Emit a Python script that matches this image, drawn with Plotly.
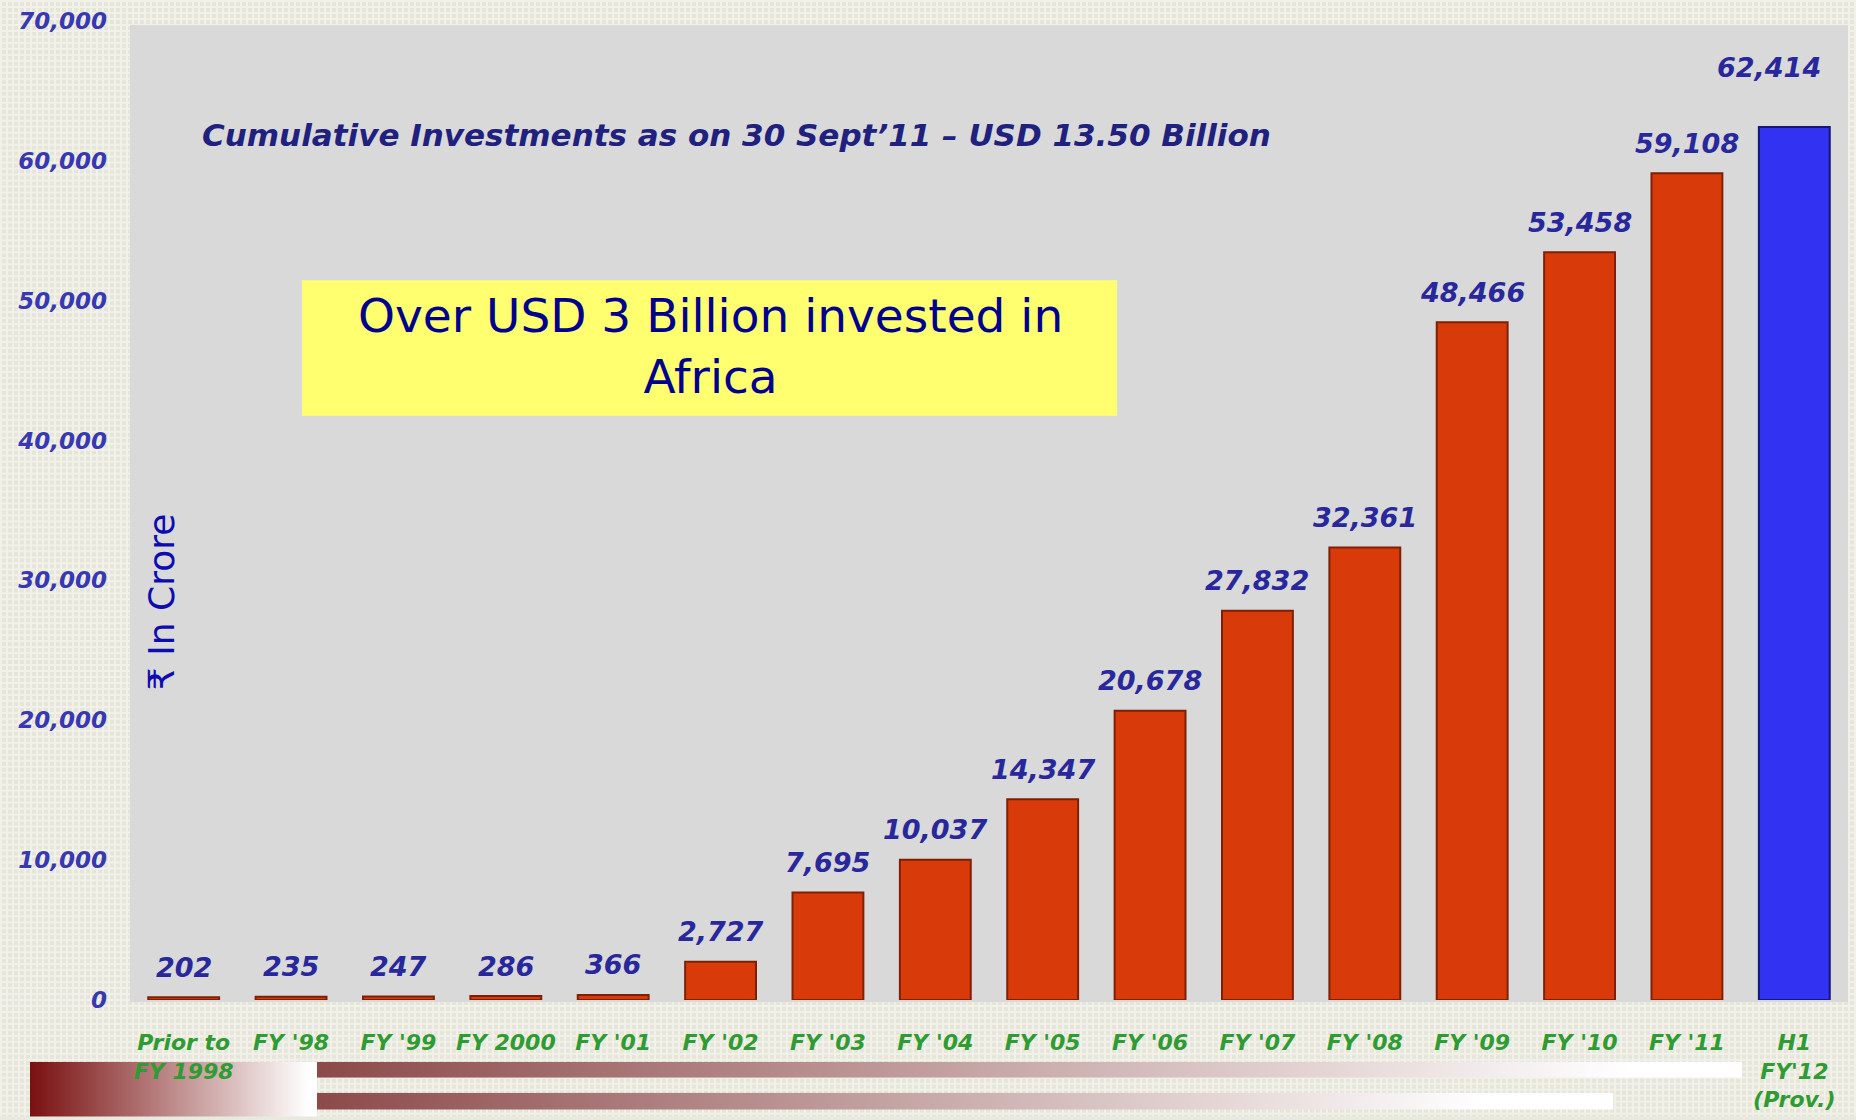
import base64
import plotly.graph_objects as go

# Cumulative investments (₹ crore) by fiscal year
categories = [
    "Prior to<br>FY 1998", "FY '98", "FY '99", "FY 2000", "FY '01", "FY '02",
    "FY '03", "FY '04", "FY '05", "FY '06", "FY '07", "FY '08", "FY '09",
    "FY '10", "FY '11", "H1<br>FY'12<br>(Prov.)",
]
values = [202, 235, 247, 286, 366, 2727, 7695, 10037, 14347, 20678,
          27832, 32361, 48466, 53458, 59108, 62414]
y_ticks = [0, 10000, 20000, 30000, 40000, 50000, 60000, 70000]

W, H = 1856, 1120
ML, MR, MT, MB = 130, 8, 21, 117
PW, PH = W - ML - MR, H - MT - MB


def px_x(px):
    return (px - ML) / PW


def px_y(py):
    return (H - MB - py) / PH


def svg_uri(svg):
    return "data:image/svg+xml;base64," + base64.b64encode(svg.encode()).decode()


# fine beige grid texture for the page background
bg_svg = (
    f"<svg xmlns='http://www.w3.org/2000/svg' width='{W}' height='{H}' "
    f"viewBox='0 0 {W} {H}' preserveAspectRatio='none'>"
    "<defs><pattern id='p' width='6' height='6' patternUnits='userSpaceOnUse'>"
    "<rect width='6' height='6' fill='#E5E6D9'/>"
    "<rect width='2' height='6' fill='#F1F1E9'/>"
    "<rect width='6' height='2' fill='#F1F1E9'/>"
    "</pattern></defs><rect width='100%' height='100%' fill='url(#p)'/></svg>"
)


def grad_svg(c0, stop):
    return (
        "<svg xmlns='http://www.w3.org/2000/svg' width='100' height='10' "
        "viewBox='0 0 100 10' preserveAspectRatio='none'>"
        "<defs><linearGradient id='g' x1='0' y1='0' x2='1' y2='0'>"
        f"<stop offset='0' stop-color='{c0}'/>"
        f"<stop offset='{stop}' stop-color='#FFFFFF'/>"
        "<stop offset='1' stop-color='#FFFFFF'/>"
        "</linearGradient></defs><rect width='100' height='10' fill='url(#g)'/></svg>"
    )


def img(src, x0, y0, x1, y1):
    return dict(
        source=svg_uri(src), xref="paper", yref="paper",
        x=px_x(x0), y=px_y(y0), sizex=(x1 - x0) / PW, sizey=(y1 - y0) / PH,
        xanchor="left", yanchor="top", sizing="stretch", layer="below",
    )


bar_colors = ["#D83A0A"] * (len(values) - 1) + ["#3232F2"]
edge_colors = ["#7E2005"] * (len(values) - 1) + ["#15157A"]
label_dy = [30] * (len(values) - 1) + [60]
label_dx = [0] * (len(values) - 1) + [-25]

fig = go.Figure(
    go.Bar(
        x=categories, y=values,
        marker=dict(color=bar_colors, line=dict(color=edge_colors, width=2)),
        hoverinfo="skip",
    )
)

for cat, val, dx, dy in zip(categories, values, label_dx, label_dy):
    fig.add_annotation(
        x=cat, y=val, text=f"{val:,}", showarrow=False, yanchor="middle",
        xshift=dx, yshift=dy,
        font=dict(family="DejaVu Sans", size=27, color="#28289C",
                  weight="bold", style="italic"),
    )

fig.add_annotation(
    xref="paper", yref="paper", x=px_x(200), y=px_y(135),
    xanchor="left", yanchor="middle", showarrow=False,
    text="Cumulative Investments as on 30 Sept’11 – USD 13.50 Billion",
    font=dict(family="DejaVu Sans", size=31, color="#20207E",
              weight="bold", style="italic"),
)

fig.add_annotation(
    xref="paper", yref="paper", x=px_x(710), y=px_y(347),
    xanchor="center", yanchor="middle", showarrow=False,
    text="Over USD 3 Billion invested in<br>Africa",
    font=dict(family="DejaVu Sans", size=47, color="#00008F"),
)

fig.add_annotation(
    xref="paper", yref="paper", x=px_x(161), y=px_y(604),
    xanchor="center", yanchor="middle", showarrow=False, textangle=-90,
    text="₹ In Crore",
    font=dict(family="DejaVu Sans", size=36, color="#0C0CB0"),
)

fig.update_layout(
    width=W, height=H,
    margin=dict(l=ML, r=MR, t=MT, b=MB, pad=0),
    paper_bgcolor="#E9EADF",
    plot_bgcolor="rgba(0,0,0,0)",
    showlegend=False,
    bargap=0.34,
    images=[
        img(bg_svg, 0, 0, W, H),
        img(grad_svg("#7A1010", 0.97), 30, 1065, 317, 1120),
        img(grad_svg("#8C4A4A", 0.92), 317, 1065, 1742, 1081),
        img(grad_svg("#8C4A4A", 0.90), 317, 1096, 1613, 1113),
    ],
    shapes=[
        dict(type="rect", xref="paper", yref="paper", layer="below",
             x0=0, x1=1, y0=px_y(1005), y1=px_y(25),
             fillcolor="#D9D9D9", line=dict(width=0)),
        dict(type="rect", xref="paper", yref="paper", layer="below",
             x0=px_x(302), x1=px_x(1117), y0=px_y(417), y1=px_y(281),
             fillcolor="#FFFF70", line=dict(width=0)),
    ],
    xaxis=dict(
        showgrid=False, zeroline=False, showline=False, ticks="",
        tickfont=dict(family="DejaVu Sans", size=22, color="#2F9B32",
                      weight="bold", style="italic"),
        ticklabelstandoff=27,
    ),
    yaxis=dict(
        range=[0, 70000], tickvals=y_ticks, tickformat=",d",
        showgrid=False, zeroline=False, showline=False, ticks="",
        tickfont=dict(family="DejaVu Sans", size=23, color="#3838B2",
                      weight="bold", style="italic"),
        ticklabelstandoff=22,
    ),
)

fig.write_html("out.html")
